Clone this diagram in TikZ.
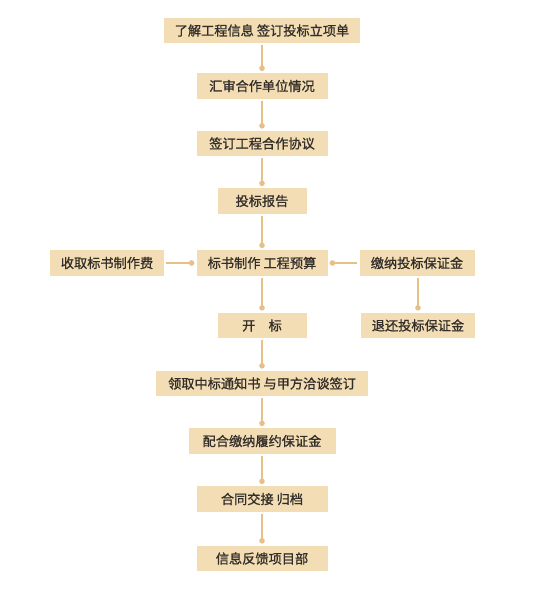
\documentclass[tikz,border=0pt]{standalone}
\usepackage{fontspec}
\setmainfont{Noto Sans CJK SC}
\newfontfamily\boxfont{Noto Sans CJK SC}[FakeBold=0.9]
\usepackage{tikz}
\usetikzlibrary{arrows.meta}
\usetikzlibrary{positioning}

\definecolor{boxfill}{RGB}{243,221,180}
\definecolor{linkline}{RGB}{230,192,135}
\definecolor{boxtext}{RGB}{50,45,40}

\tikzset{
  stepbox/.style={rectangle, fill=boxfill, text=boxtext, minimum height=25.5pt, inner sep=0pt, font=\fontsize{13.2pt}{15pt}\boxfont},
  link/.style={linkline, line width=1.5pt, shorten <=2pt, shorten >=2pt, -{Circle[length=5.5pt]}}
}

\begin{document}
\begin{tikzpicture}[x=1pt, y=-1pt]
\useasboundingbox (0,0) rectangle (560,598);

% main column
\node[stepbox, minimum width=196pt] (Info) at (262,30.5) {了解工程信息 签订投标立项单};
\node[stepbox, minimum width=131pt] (Review) at (262,86) {汇审合作单位情况};
\node[stepbox, minimum width=131pt] (Agreement) at (262,143.5) {签订工程合作协议};
\node[stepbox, minimum width=89pt] (Report) at (262,201) {投标报告};
\node[stepbox, minimum width=131pt] (Bidding) at (262,263) {标书制作 工程预算};
\node[stepbox, minimum width=89pt] (Opening) at (262,325.5) {开\quad 标};
\node[stepbox, minimum width=212pt] (Notice) at (262,383.5) {领取中标通知书 与甲方洽谈签订};
\node[stepbox, minimum width=147pt] (Deposit) at (262,441) {配合缴纳履约保证金};
\node[stepbox, minimum width=131pt] (Archive) at (262,499) {合同交接 归档};
\node[stepbox, minimum width=131pt] (Feedback) at (262,558.5) {信息反馈项目部};

% side boxes
\node[stepbox, minimum width=114pt] (Fee) at (107,263) {收取标书制作费};
\node[stepbox, minimum width=115pt] (BidBond) at (417,263) {缴纳投标保证金};
\node[stepbox, minimum width=114pt] (BondReturn) at (418,325.5) {退还投标保证金};

\draw[link] (Info) -- (Review);
\draw[link] (Review) -- (Agreement);
\draw[link] (Agreement) -- (Report);
\draw[link] (Report) -- (Bidding);
\draw[link] (Bidding) -- (Opening);
\draw[link] (Opening) -- (Notice);
\draw[link] (Notice) -- (Deposit);
\draw[link] (Deposit) -- (Archive);
\draw[link] (Archive) -- (Feedback);

\draw[link] (Fee) -- (Bidding);
\draw[link] (BidBond) -- (Bidding);
\draw[link] (BidBond.south -| BondReturn) -- (BondReturn);
\end{tikzpicture}
\end{document}
